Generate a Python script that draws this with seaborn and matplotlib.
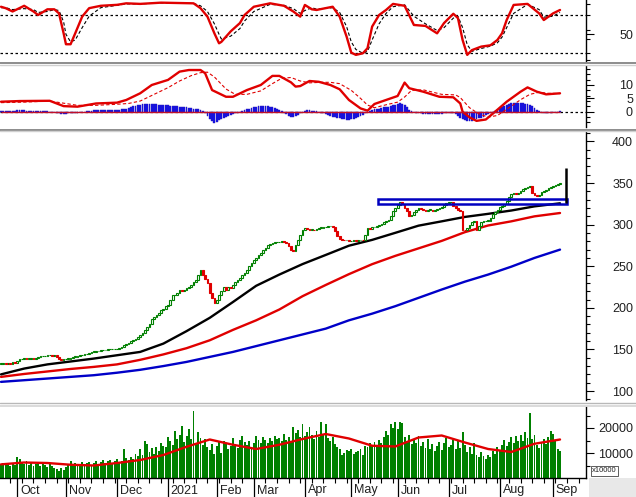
import numpy as np
import pandas as pd
import matplotlib
matplotlib.use("Agg")
import matplotlib.pyplot as plt
import seaborn as sns
from matplotlib.lines import Line2D
from matplotlib.patches import Rectangle

# ---------------- data ----------------
close = [133, 134, 133, 134, 133, 135, 134, 136, 138, 139,
         140, 139, 139, 140, 139, 140, 141, 142, 142, 142,
         143, 143, 142, 143, 141, 139, 137, 138, 139, 139,
         140, 141, 141, 142, 143, 143, 144, 145, 146, 147,
         147, 148, 148, 149, 149, 149, 150, 150, 150, 150,
         151, 152, 153, 155, 157, 158, 160, 161, 163, 165,
         167, 170, 173, 177, 181, 186, 189, 191, 194, 197,
         199, 202, 204, 210, 215, 216, 218, 221, 220, 222,
         224, 225, 228, 231, 233, 239, 245, 240, 235, 230,
         218, 212, 206, 210, 215, 220, 225, 222, 225, 224,
         228, 231, 233, 236, 239, 242, 245, 250, 254, 257,
         260, 263, 266, 269, 272, 275, 277, 278, 279, 279,
         279, 280, 279, 278, 274, 270, 268, 275, 281, 288,
         294, 296, 295, 294, 294, 293, 295, 296, 296, 297,
         297, 298, 298, 297, 292, 286, 283, 282, 281, 281,
         280, 280, 281, 280, 281, 282, 281, 288, 296, 295,
         297, 297, 298, 299, 301, 303, 305, 306, 310, 317,
         320, 324, 327, 325, 320, 317, 310, 312, 315, 318,
         320, 319, 318, 317, 318, 318, 317, 318, 319, 320,
         321, 324, 326, 327, 327, 322, 320, 318, 317, 294,
         293, 296, 300, 303, 305, 294, 298, 303, 304, 305,
         305, 308, 313, 315, 318, 321, 323, 325, 328, 333,
         337, 338, 337, 338, 340, 343, 344, 345, 346, 338,
         336, 334, 336, 339, 340, 342, 344, 345, 347, 348,
         349, 350]

volume = [5500, 6000, 5200, 5800, 5000, 6200, 5400, 8500, 7600, 6000,
          5800, 6800, 5200, 6400, 5000, 5800, 6200, 4800, 5600, 5200,
          4600, 5800, 5000, 4200, 3600, 3000, 4000, 3400, 4600, 5200,
          7000, 4800, 6200, 5400, 5000, 6400, 5600, 6000, 6600, 5400,
          6200, 7000, 5800, 6600, 7400, 6000, 6800, 7200, 5600, 6800,
          7600, 6400, 7000, 11800, 8000, 7200, 8400, 7600, 9600, 8800,
          11500, 9400, 15000, 13500, 10400, 12000, 9800, 12600, 11000, 14000,
          13000, 12400, 16500, 14800, 13200, 18800, 15600, 17400, 21000, 14600,
          16800, 19500, 15800, 27000, 14000, 18400, 16200, 13400, 15600, 12600,
          11200, 13600, 9600, 12800, 14400, 10200, 15000, 13600, 11800, 13000,
          16200, 13800, 12000, 15400, 16800, 14600, 13200, 15000, 12000, 14200,
          17000, 15400, 14200, 16600, 15200, 14000, 16000, 15000, 17000, 15800,
          16000, 14800, 17600, 15200, 16400, 14600, 20500, 18000, 19400, 16600,
          21800, 16800, 18600, 20400, 17200, 15800, 19000, 16400, 22600, 17400,
          21800, 16200, 14800, 16600, 13800, 12400, 11800, 9200, 10200, 11400,
          10800, 11600, 9800, 10600, 11000, 11800, 9400, 13000, 12400, 14000,
          12800, 14600, 13400, 15200, 14000, 16400, 18800, 17400, 21600, 20000,
          22400, 19600, 22600, 22000, 16600, 14800, 17200, 13600, 15400, 14200,
          16800, 13000, 14400, 12200, 15800, 11600, 13800, 10800, 12800, 14600,
          11200, 14000, 16000, 12400, 13200, 15400, 11600, 14800, 12000, 18400,
          13400, 10400, 12600, 9800, 14000, 9200, 8400, 10600, 8800, 7800,
          9400, 8600, 11000, 9800, 12400, 10800, 13400, 15200, 12800, 14600,
          16400, 14200, 16800, 15000, 17200, 14800, 18600, 16200, 26000, 15600,
          17400, 13400, 12000, 14600, 15800, 13800, 16600, 19000, 17800, 15200,
          11600, 10800]

macd_hist = [0.3, 0.3, 0.2, 0.3, 0.2, 0.3, 0.4, 0.5, 0.6, 0.5,
             0.5, 0.4, 0.4, 0.3, 0.3, 0.2, 0.3, 0.3, 0.2, 0.1,
             0.1, 0.0, -0.1, -0.2, -0.4, -0.6, -0.8, -0.8, -0.7, -0.6,
             -0.6, -0.5, -0.4, -0.3, -0.2, -0.1, 0.0, 0.2, 0.3, 0.4,
             0.5, 0.6, 0.6, 0.7, 0.7, 0.6, 0.6, 0.5, 0.5, 0.6,
             0.7, 0.8, 0.9, 1.0, 1.2, 1.4, 1.7, 2.0, 2.3, 2.5,
             2.7, 2.8, 2.9, 3.0, 3.0, 2.9, 2.9, 2.8, 2.7, 2.6,
             2.5, 2.4, 2.4, 2.3, 2.2, 2.1, 2.0, 1.9, 1.8, 1.7,
             1.6, 1.5, 1.3, 1.2, 1.0, 0.9, 0.7, 0.3, -0.5, -1.5,
             -2.6, -3.5, -4.1, -3.8, -3.2, -2.8, -2.4, -2.0, -1.6, -1.2,
             -0.9, -0.6, -0.3, 0.0, 0.3, 0.6, 0.9, 1.2, 1.5, 1.7,
             1.9, 2.0, 2.1, 2.1, 2.0, 2.0, 1.9, 1.7, 1.4, 1.1,
             0.7, 0.3, -0.3, -1.0, -1.6, -1.9, -1.9, -1.6, -1.2, -0.6,
             0.0, 0.4, 0.5, 0.5, 0.4, 0.3, 0.2, 0.0, -0.3, -0.6,
             -0.9, -1.2, -1.5, -1.8, -2.1, -2.3, -2.5, -2.7, -2.8, -2.9,
             -2.9, -2.8, -2.7, -2.4, -2.0, -1.6, -1.2, -0.6, -0.1, 0.4,
             0.7, 0.9, 1.1, 1.2, 1.4, 1.6, 1.8, 1.9, 2.1, 2.4,
             2.6, 2.8, 3.1, 3.0, 2.4, 1.6, 0.8, 0.2, -0.2, -0.4,
             -0.5, -0.6, -0.7, -0.8, -0.8, -0.8, -0.9, -0.9, -0.8, -0.8,
             -0.7, -0.6, -0.5, -0.4, -0.4, -0.6, -0.9, -1.5, -2.2, -2.8,
             -3.1, -3.3, -3.4, -3.3, -3.1, -2.8, -2.5, -2.2, -1.8, -1.4,
             -1.0, -0.6, -0.2, 0.3, 0.8, 1.3, 1.8, 2.3, 2.7, 3.0,
             3.2, 3.4, 3.4, 3.3, 3.3, 3.2, 3.0, 2.8, 2.5, 2.1,
             1.5, 0.8, 0.2, -0.2, -0.4, -0.4, -0.4, -0.3, -0.2, -0.1,
             0.0, 0.1]

# moving averages sampled every 10 sessions
ma_idx = [0, 10, 20, 30, 40, 50, 60, 70, 80, 90, 100, 110, 120, 130, 140,
          150, 160, 170, 180, 190, 200, 210, 220, 230, 241]
ma_black = [120, 127, 132, 135.5, 139, 143, 147, 157, 172, 188, 207, 226.5, 240,
            252.6, 263.6, 274.7, 281.7, 290.2, 298.8, 304, 309.3, 313, 317, 322, 325.7]
ma_red = [117, 120.5, 123.5, 126.5, 129, 132, 137.5, 144, 151.5, 161, 173.5, 185,
          198, 214, 227.5, 240.5, 252.5, 262.5, 271.5, 280.5, 291, 299, 304, 310, 314]
ma_blue = [111, 113, 115, 117, 119, 122, 125.5, 130, 135, 141, 147, 154, 161, 168,
           175, 185, 193, 202, 212, 222, 231.5, 240, 249.5, 260, 270]
vol_ma = [5450, 6200, 6000, 5300, 5000, 6000, 7200, 9200, 12500, 15400, 13300,
          11600, 13300, 15600, 17600, 15800, 12900, 12600, 16200, 17000, 14200,
          11600, 10400, 13700, 15400]

rsi_idx = [0, 2, 5, 10, 14, 16, 20, 23, 25, 27, 28, 30, 32, 35, 38, 43, 50, 54, 60, 69,
           83, 86, 89, 92, 94, 95, 99, 103, 105, 109, 116, 122, 126, 129, 131, 134, 136,
           143, 146, 149, 151, 153, 156, 158, 160, 163, 166, 169, 174, 178, 183, 188, 191,
           195, 197, 199, 201, 203, 207, 211, 214, 216, 218, 221, 227, 232, 234, 238, 241]
rsi_val = [79, 77.5, 74, 80, 74, 70.3, 76.3, 76.3, 72, 51, 39.5, 39.5, 51, 68.6, 77.5, 80,
           81, 82.6, 82, 83.3, 82.6, 77.5, 68.6, 51, 40.5, 42, 53, 61.8, 70.3, 79, 82.6, 80,
           74, 68.6, 80.9, 76.3, 75.6, 79, 68.6, 47.5, 30.7, 28.3, 30, 35.3, 58.1, 70.3, 75.6,
           82, 80, 59.8, 58.8, 51, 61.8, 71.6, 67, 44, 28.3, 33.3, 37, 38.4, 44, 51, 65, 80.9,
           82, 72, 65, 72, 75.6]
rsi_sig = [78, 78, 76, 77, 76, 73, 74, 76, 75, 63, 50, 42, 44, 57, 69, 78, 80.5, 82, 82, 83,
           82.5, 80, 74, 61, 50, 45, 48, 56, 64, 74, 81.5, 80.5, 77, 72, 75, 78, 76.5, 78, 73,
           58, 42, 34, 30, 32, 44, 61, 72, 79, 81, 69, 61, 54, 57, 67, 69, 57, 39, 32, 35,
           37.5, 41, 47, 57, 72, 81.5, 76, 68, 69, 73]

macd_idx = [0, 8, 21, 24, 27, 33, 41, 50, 54, 60, 65, 72, 77, 81, 86, 88, 91, 97, 100, 106,
            112, 117, 120, 125, 127, 129, 133, 137, 142, 146, 150, 155, 158, 161, 166, 171,
            174, 176, 182, 189, 195, 198, 199, 202, 205, 209, 213, 218, 224, 227, 231, 235, 241]
macd_val = [3.75, 4.0, 4.1, 3.1, 2.1, 1.9, 3.1, 3.4, 4.4, 6.9, 10, 11.9, 15, 15.6, 15.6, 14.4,
            8.1, 5.6, 5.6, 8.1, 10, 13.4, 13.4, 11.0, 9.4, 9.6, 11.5, 11.2, 10, 8.4, 4.4, 1.25,
            0.4, 2.9, 4.4, 5.9, 10.9, 8.8, 7.5, 5.6, 5.4, 3.1, 0, -2.1, -3.4, -2.9, 0, 3.75,
            7.5, 9.1, 7.5, 6.5, 6.9]
macd_sig_idx = [0, 10, 21, 27, 33, 41, 50, 55, 60, 66, 72, 77, 82, 86, 89, 92, 97, 101, 106,
                112, 117, 121, 125, 129, 133, 138, 142, 146, 151, 155, 158, 161, 166, 171, 174,
                177, 182, 190, 196, 198, 202, 206, 210, 214, 219, 224, 228, 232, 236, 241]
macd_sig_val = [3.4, 3.6, 4.0, 3.2, 2.4, 2.4, 2.8, 3.1, 4.0, 6.5, 9.0, 11.5, 13.5, 14.6, 14.8,
                13.0, 8.5, 6.5, 6.5, 7.8, 10.5, 12.5, 12.8, 11.5, 10.8, 11.0, 11.0, 10.5, 8.0,
                5.0, 2.5, 1.5, 2.6, 3.6, 5.5, 8.0, 8.2, 6.5, 6.3, 5.3, 1.5, -0.8, -2.0, -1.4,
                1.5, 4.5, 6.5, 7.3, 6.9, 6.8]

month_idx = [7, 28, 50, 72, 93, 109, 131, 151, 171, 193, 215, 238]
month_lbl = ["Oct", "Nov", "Dec", "2021", "Feb", "Mar", "Apr", "May", "Jun", "Jul", "Aug", "Sep"]

zone_lo, zone_hi = 325, 331          # resistance box
zone_start, zone_end = 162.5, 244
mark_idx, mark_lo, mark_hi = 243.5, 326, 368   # last vertical marker

price_ticks = [100, 150, 200, 250, 300, 350, 400]
vol_ticks = [10000, 20000]

# ---------------- figure ----------------
sns.set_style("white")
plt.rcParams["font.family"] = ["Liberation Sans", "DejaVu Sans"]

W, H = 636, 497
fig = plt.figure(figsize=(W / 100, H / 100), dpi=100)
fig.patch.set_facecolor("white")

def add_ax(top, bottom):
    return fig.add_axes([0, 1 - bottom / H, 586 / W, (bottom - top) / H])

ax_rsi = add_ax(0, 62)
ax_macd = add_ax(66, 127)
ax_pr = add_ax(132, 400)
ax_vol = add_ax(407, 478)

n = len(close)
idx = np.arange(n)
xlim = (-0.43, 252.2)
TXT = "#202020"
RED = "#e00000"
GREEN = "#008000"

for ax in (ax_rsi, ax_macd, ax_pr, ax_vol):
    ax.set_facecolor("white")
    ax.set_xlim(*xlim)
    for s in ("top", "left", "bottom"):
        ax.spines[s].set_visible(False)
    ax.spines["right"].set_color("black")
    ax.spines["right"].set_linewidth(1.0)
    ax.yaxis.tick_right()
    ax.tick_params(axis="y", which="major", length=5.8, width=0.8, direction="out",
                   pad=28, labelsize=9, labelcolor=TXT, colors="black")
    ax.tick_params(axis="y", which="minor", length=2.9, width=0.8, direction="out", colors="black")
    ax.tick_params(axis="x", which="both", bottom=False, labelbottom=False)
    ax.grid(False)

# ---- RSI panel ----
ax_rsi.set_ylim(20.8, 86.1)
ax_rsi.axhline(70, color="black", lw=0.9, ls=(0, (2, 2)))
ax_rsi.axhline(30, color="black", lw=0.9, ls=(0, (2, 2)))
sns.lineplot(x=rsi_idx, y=rsi_sig, ax=ax_rsi, color="black", lw=0.8,
             linestyle=(0, (3, 2)), sort=False, estimator=None)
sns.lineplot(x=rsi_idx, y=rsi_val, ax=ax_rsi, color=RED, lw=1.7, sort=False, estimator=None)
ax_rsi.set_yticks([50])
ax_rsi.set_yticklabels(["50"])
ax_rsi.set_yticks([23, 30, 45, 55, 70, 82], minor=True)

# ---- MACD panel ----
ax_macd.set_ylim(-5.7, 17.1)
ax_macd.axhline(0, color="black", lw=0.9, ls=(0, (2, 2)))
hist = np.array(macd_hist)
ax_macd.bar(idx, hist, width=0.8, color="#1010ee", edgecolor="#2a18b0", lw=0.3, zorder=2)
ax_macd.hlines(0, idx[0], idx[-1], color="#c0102a", lw=1.0, zorder=3)
sns.lineplot(x=macd_sig_idx, y=macd_sig_val, ax=ax_macd, color=RED, lw=0.8,
             linestyle=(0, (3, 2)), sort=False, estimator=None)
sns.lineplot(x=macd_idx, y=macd_val, ax=ax_macd, color=RED, lw=1.7, sort=False, estimator=None)
ax_macd.set_yticks([0, 5, 10])
ax_macd.set_yticklabels(["0", "5", "10"])
ax_macd.set_yticks([-4, -2, 2, 4, 6, 8, 12, 14, 16], minor=True)

# ---- price panel ----
ax_pr.set_ylim(89.2, 411.4)
sns.lineplot(x=ma_idx, y=ma_blue, ax=ax_pr, color="#0000c8", lw=1.7, sort=False, estimator=None)
sns.lineplot(x=ma_idx, y=ma_red, ax=ax_pr, color=RED, lw=1.7, sort=False, estimator=None)
sns.lineplot(x=ma_idx, y=ma_black, ax=ax_pr, color="black", lw=1.7, sort=False, estimator=None)

c = np.array(close, dtype=float)
o = np.concatenate([[c[0]], c[:-1]])
up = c >= o
low = np.minimum(o, c)
ht = np.maximum(np.abs(c - o), 0.6)
ax_pr.bar(idx[up], ht[up], bottom=low[up], width=0.75, facecolor="white",
          edgecolor=GREEN, lw=0.8, zorder=4)
ax_pr.bar(idx[~up], ht[~up], bottom=low[~up], width=0.75, facecolor=RED,
          edgecolor=RED, lw=0.8, zorder=4)

ax_pr.add_patch(Rectangle((zone_start, zone_lo), zone_end - zone_start, zone_hi - zone_lo,
                          fill=False, edgecolor="#0000c0", lw=1.8, zorder=5))
ax_pr.vlines(mark_idx, mark_lo, mark_hi, color="black", lw=1.8, zorder=6)

ax_pr.set_yticks(price_ticks)
ax_pr.set_yticklabels([str(t) for t in price_ticks])
ax_pr.set_yticks([t for t in range(90, 411, 10) if t % 50 != 0], minor=True)

# ---- volume panel ----
ax_vol.set_ylim(0, 28400)
ax_vol.bar(idx, volume, width=0.82, color=GREEN, lw=0, zorder=2)
sns.lineplot(x=ma_idx, y=vol_ma, ax=ax_vol, color=RED, lw=1.7, sort=False, estimator=None, zorder=3)
ax_vol.set_yticks(vol_ticks)
ax_vol.set_yticklabels([str(t) for t in vol_ticks])
ax_vol.set_yticks([5000, 15000, 25000], minor=True)
ax_vol.spines["bottom"].set_visible(True)
ax_vol.spines["bottom"].set_color("black")
ax_vol.spines["bottom"].set_linewidth(1.0)
ax_vol.set_xticks(month_idx)
ax_vol.set_xticks(list(range(4, 252, 5)), minor=True)
ax_vol.tick_params(axis="x", which="major", bottom=True, length=13.7, width=0.9,
                   direction="out", colors="black", labelbottom=False)
ax_vol.tick_params(axis="x", which="minor", bottom=True, length=3.6, width=0.8,
                   direction="out", colors="black", labelbottom=False)
trans = ax_vol.get_xaxis_transform()
for m, lbl in zip(month_idx, month_lbl):
    ax_vol.text(m + 1.2, -12.5 / 71, lbl, transform=trans, ha="left", va="center",
                fontsize=9, color=TXT, clip_on=False)

for ax in (ax_rsi, ax_macd, ax_pr, ax_vol):
    for lbl in ax.get_yticklabels():
        lbl.set_horizontalalignment("right")
    ax.set_xlabel("")
    ax.set_ylabel("")

# ---- separators and decorations ----
def fy(px):
    return 1 - px / H

for y, col, lw in [(63.3, "#8c8c8c", 1.4), (64.8, "#d0d0d0", 1.0),
                   (129.8, "#8c8c8c", 1.4), (131.2, "#d0d0d0", 1.0),
                   (402.8, "#b8b8b8", 1.0), (405.6, "#d4d4d4", 1.2)]:
    fig.add_artist(Line2D([0, 1], [fy(y), fy(y)], color=col, lw=lw, transform=fig.transFigure))

fig.add_artist(Rectangle((589 / W, 0), (W - 589) / W, 19 / H, transform=fig.transFigure,
                         facecolor="#e8e8e8", edgecolor="none", zorder=0))
fig.text(592 / W, fy(471), "x10000", fontsize=5.5, ha="left", va="center", color=TXT,
         bbox=dict(boxstyle="square,pad=0.15", fc="white", ec="#444444", lw=0.6))

fig.savefig("out.png", dpi=100)
